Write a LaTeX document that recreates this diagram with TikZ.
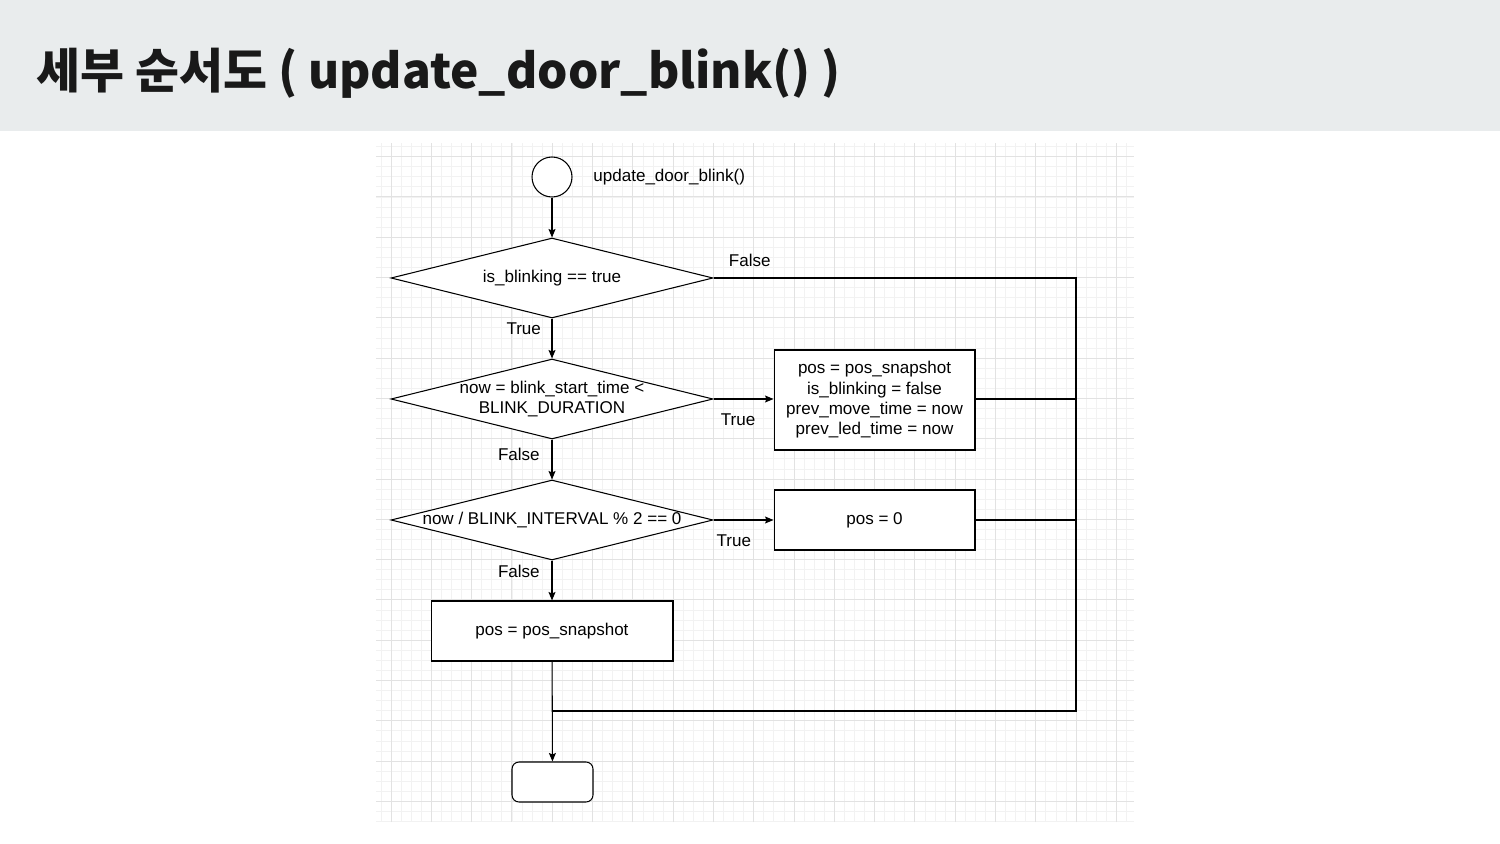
\documentclass[tikz,border=0pt]{standalone}
\usepackage{fontspec}
\setmainfont{Liberation Sans}
\newfontfamily\titlefont{Noto Sans CJK KR}
\usetikzlibrary{shapes.geometric,arrows.meta,positioning}
\definecolor{titlegray}{HTML}{E9ECED}
\definecolor{gridminor}{HTML}{F2F2F2}
\definecolor{gridmajor}{HTML}{E2E2E2}
\newcommand\chartfont{\fontsize{9.7pt}{11.6pt}\selectfont}
\begin{document}
\begin{tikzpicture}[x=0.02cm, y=-0.02cm, line width=0.6pt, font=\chartfont,
	decision/.style={diamond, draw, fill=white, inner sep=0pt, minimum width=6.44cm, minimum height=1.6cm},
	process/.style={rectangle, draw, fill=white, align=center},
	startnode/.style={circle, draw, fill=white, inner sep=0pt, minimum size=0.8cm},
	endnode/.style={rectangle, draw, fill=white, rounded corners=0.14cm, minimum width=1.62cm, minimum height=0.8cm},
	edgelabel/.style={inner sep=2pt},
	arrow/.style={-{Stealth[length=0.17cm, width=0.14cm, inset=0.03cm]}}]
	\useasboundingbox (0,0) rectangle (1500,844);
	\fill[titlegray] (0,0) rectangle (1500,131);
	\node[anchor=west, font=\titlefont\bfseries\fontsize{27.2pt}{32pt}\selectfont, text=black!90] (title) at (30,73) {세부 순서도 ( update\_door\_blink() )};
	
	% grid paper
	\begin{scope}[shift={(1076,761)}]
		\draw[gridminor, line width=0.4pt, step=0.2015cm] (-700,-618) grid (58,61);
		\draw[gridmajor, line width=0.5pt, step=0.806cm] (-700,-618) grid (58,61);
	\end{scope}
	
	\node[startnode] (start) at (552,177) {};
	\node[anchor=west] (fname) at (587,177) {update\_door\_blink()};
	\node[decision] (d1) at (552,278) {};
	\draw (d1) node (d1text) {is\_blinking == true};
	\node[decision] (d2) at (552,399) {};
	\draw (d2) node[align=center] (d2text) {now = blink\_start\_time <\\BLINK\_DURATION};
	\node[decision] (d3) at (552,520) {};
	\draw (d3) node (d3text) {now / BLINK\_INTERVAL \% 2 == 0};
	\node[process, minimum width=4.02cm, minimum height=2cm] (reset) at (874.5,400) {pos = pos\_snapshot\\is\_blinking = false\\prev\_move\_time = now\\prev\_led\_time = now};
	\node[process, minimum width=4.02cm, minimum height=1.2cm] (off) at (874.5,520) {pos = 0};
	\node[process, minimum width=4.84cm, minimum height=1.2cm] (restore) at (552,631) {pos = pos\_snapshot};
	\node[endnode] (stop) at (552.5,782) {};
	\coordinate (railtop) at (1076,278);
	\coordinate (railbot) at (1076,711);
	\coordinate (join) at (552,711);
	
	\draw[arrow] (start) -- (d1);
	\draw[arrow] (d1) -- node[edgelabel, left, pos=0.25, xshift=-4pt] {True} (d2);
	\draw (d1.east) -- node[edgelabel, above, pos=0.1, yshift=4.3pt] {False} (railtop) -- (railbot) -- (join);
	\draw[arrow] (d2.east) -- node[edgelabel, below, pos=0.41, yshift=-6pt] {True} (reset.west |- d2.east);
	\draw (reset.east |- d2.east) -- (d2.east -| railtop);
	\draw[arrow] (d2) -- node[edgelabel, left, pos=0.37, xshift=-4.7pt] {False} (d3);
	\draw[arrow] (d3.east) -- node[edgelabel, below, pos=0.34, yshift=-6pt] {True} (off.west);
	\draw (off.east) -- (off.east -| railtop);
	\draw[arrow] (d3) -- node[edgelabel, left, pos=0.27, xshift=-4.7pt] {False} (restore);
	\draw[arrow] (restore) -- (stop);
\end{tikzpicture}
\end{document}
